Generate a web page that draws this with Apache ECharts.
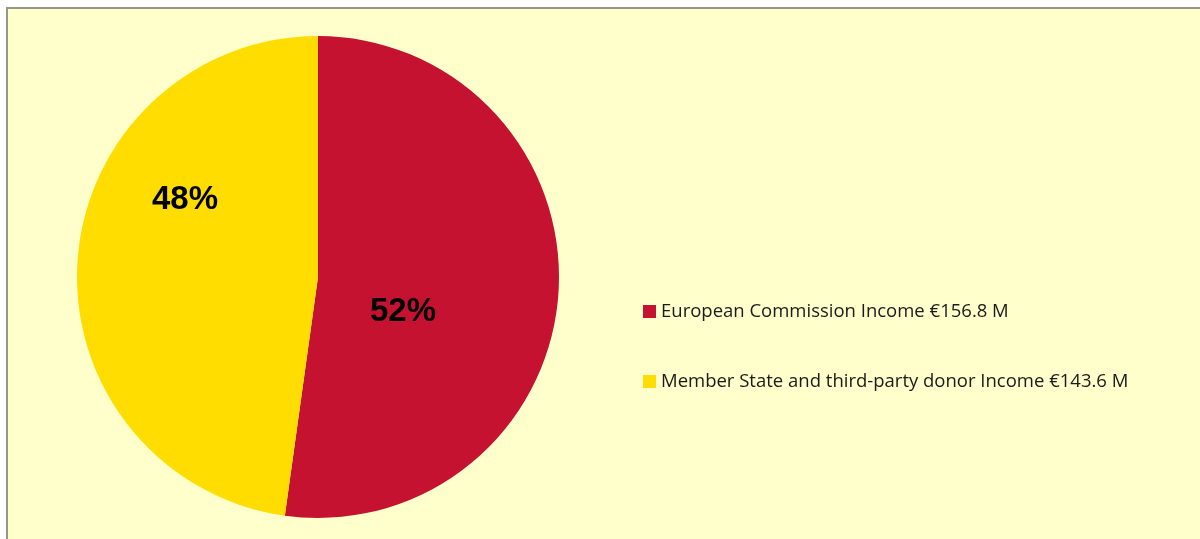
<!DOCTYPE html>
<html>
<head>
<meta charset="utf-8">
<script src="https://cdn.jsdelivr.net/npm/echarts@6/dist/echarts.min.js"></script>
<style>
  html, body { margin: 0; padding: 0; background: #ffffff; overflow: hidden; }
  #frame { position: absolute; left: 6px; top: 7px; width: 1300px; height: 600px;
           background: #FFFFCC; border-left: 2px solid #979789; border-top: 2px solid #979789; }
  #main { position: absolute; left: 0; top: 0; width: 1200px; height: 539px; }
</style>
</head>
<body>
<div id="frame"></div>
<div id="main"></div>
<script>
const categories = [
  'European Commission Income €156.8 M',
  'Member State and third-party donor Income €143.6 M'
];
const values = [156.8, 143.6];
const colors = ['#C41230', '#FFDD00'];
// label anchor positions (px) inside slices, as in the reference
const labelPos = [[403, 312], [185, 200]];

const chart = echarts.init(document.getElementById('main'), null, { renderer: 'canvas' });
chart.setOption({
  backgroundColor: 'transparent',
  animation: false,
  legend: {
    orient: 'vertical',
    left: 643,
    top: 302,
    padding: 0,
    itemWidth: 13,
    itemHeight: 13,
    itemGap: 51,
    icon: 'rect',
    data: categories,
    selectedMode: false,
    textStyle: { fontFamily: 'Open Sans', fontSize: 18.5, lineHeight: 16, color: '#1a1a1a', padding: [0, 0, 0, 0] }
  },
  series: [{
    type: 'pie',
    center: [318, 277],
    radius: 241,
    startAngle: 90,
    clockwise: true,
    silent: true,
    data: categories.map((c, i) => ({ name: c, value: values[i], itemStyle: { color: colors[i] } })),
    itemStyle: { borderWidth: 0 },
    label: {
      show: true,
      position: 'inside',
      formatter: p => Math.round(p.percent) + '%',
      fontFamily: 'Liberation Sans',
      fontWeight: 'bold',
      fontSize: 33,
      color: '#000000'
    },
    labelLine: { show: false },
    labelLayout: p => ({ x: labelPos[p.dataIndex][0], y: labelPos[p.dataIndex][1], align: 'center', verticalAlign: 'middle' })
  }]
});
</script>
</body>
</html>
